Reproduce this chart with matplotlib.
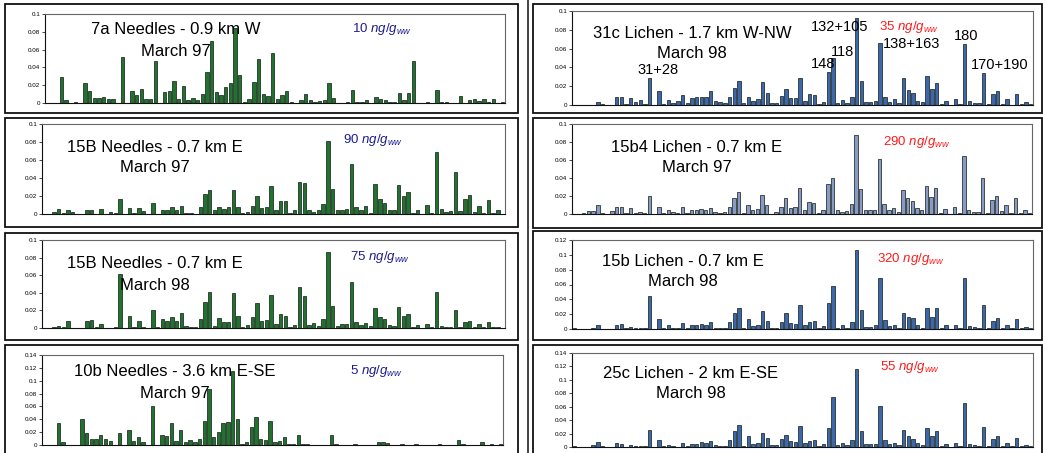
import numpy as np
import matplotlib
matplotlib.use("Agg")
import matplotlib.pyplot as plt
from matplotlib.patches import Rectangle
from matplotlib.lines import Line2D

# relative congener profiles, 98 congener slots per panel
needles_7a_97 = [0, 0, 0, .029, .003, 0, .001, 0, .022, .013,
                 .006, .006, .007, .005, .005, 0, .052, 0, .014, .009,
                 .016, .004, .004, .047, 0, .012, .013, .025, .004, .019,
                 .003, .006, .003, .010, .035, .070, .012, .009, .018, .022,
                 .084, .032, .001, .004, .024, .050, .010, .008, .056, .005,
                 .009, .013, .001, 0, .003, .010, .003, .001, .002, .003,
                 .023, .006, 0, 0, .001, .015, .001, .001, .003, 0,
                 .007, .004, .003, .001, .001, .011, .003, .011, .047, 0,
                 0, .001, 0, .015, .001, .001, 0, 0, .008, 0,
                 .003, .004, .002, .004, .001, .004, 0, .001]

lichen_31c_98 = [0, 0, 0, 0, 0, .003, .001, 0, 0, .009,
                 .008, .001, .007, .003, .005, .001, .029, 0, .015, .001,
                 .005, .002, .004, .011, .002, .007, .009, .008, .008, .015,
                 .004, .003, .002, .008, .018, .026, .002, .009, .004, .006,
                 .024, .013, .002, .002, .010, .017, .007, .007, .029, .004,
                 .012, .011, .001, .003, .035, .050, .002, .005, .002, .009,
                 .093, .026, .003, .003, .004, .066, .009, .003, .006, .002,
                 .029, .016, .013, .004, .003, .031, .017, .023, .001, .004,
                 0, .006, .001, .065, .004, .002, .002, .034, .001, .012,
                 .015, .001, .006, 0, .012, .001, .003, .001]

needles_15B_97 = [0, 0, .002, .006, .001, .005, .002, 0, 0, .005,
                  .004, 0, .006, 0, .002, .001, .017, 0, .007, .001,
                  .007, .003, 0, .012, 0, .005, .005, .008, .004, .009,
                  .001, .001, 0, .008, .022, .027, .005, .008, .006, .008,
                  .027, .008, .001, .002, .009, .020, .007, .008, .031, .005,
                  .014, .014, .001, .005, .036, .034, .004, .002, .004, .011,
                  .081, .028, .004, .005, .006, .056, .008, .005, .009, .001,
                  .033, .017, .012, .005, .004, .032, .020, .025, .001, .005,
                  0, .010, .001, .069, .006, .002, .003, .047, .003, .017,
                  .021, .002, .009, .001, .016, .001, .004, 0]

lichen_15b4_97 = [0, 0, .001, .003, .003, .010, .001, 0, .003, .008,
                  .008, .001, .007, .001, .002, .001, .020, 0, .008, .001,
                  .005, .002, .001, .008, .001, .004, .004, .006, .005, .007,
                  .002, .001, .002, .008, .018, .025, .001, .010, .004, .006,
                  .021, .010, 0, .002, .008, .018, .007, .008, .029, .005,
                  .013, .012, .001, .005, .033, .040, .004, .002, .003, .011,
                  .088, .028, .004, .004, .005, .061, .011, .004, .007, .002,
                  .027, .018, .015, .007, .004, .031, .019, .029, .001, .006,
                  0, .008, .001, .064, .005, .002, .002, .040, .001, .016,
                  .020, .003, .010, .001, .018, .001, .005, .001]

needles_15B_98 = [0, 0, .001, .002, .001, .008, 0, 0, 0, .008,
                  .009, .001, .005, 0, 0, .001, .061, 0, .014, .001,
                  .008, .001, 0, .020, .001, .010, .008, .013, .008, .017,
                  .002, .001, .001, .010, .030, .041, .002, .011, .007, .007,
                  .040, .014, .001, .003, .013, .028, .008, .009, .037, .005,
                  .016, .014, .001, .003, .047, .036, .003, .006, .002, .010,
                  .086, .025, .002, .005, .004, .052, .007, .003, .006, .002,
                  .023, .013, .010, .003, .002, .024, .014, .016, .001, .003,
                  0, .005, .001, .041, .002, .001, .001, .020, .001, .007,
                  .008, .001, .004, .001, .007, .001, .001, 0]

lichen_15b_98 = [.001, 0, 0, 0, .001, .006, 0, 0, 0, .006,
                 .007, .001, .003, .001, .002, .001, .044, 0, .013, .001,
                 .006, .001, .001, .008, .002, .005, .005, .007, .006, .009,
                 .001, .001, .001, .009, .022, .028, .001, .013, .004, .006,
                 .024, .011, .001, .002, .010, .021, .008, .007, .032, .005,
                 .010, .011, .001, .004, .035, .058, .002, .005, .002, .009,
                 .106, .026, .003, .003, .005, .069, .012, .004, .006, .002,
                 .022, .016, .015, .006, .002, .028, .016, .028, .001, .006,
                 0, .006, .001, .069, .004, .003, .001, .033, .001, .011,
                 .015, .002, .006, .001, .013, .001, .003, .001]

needles_10b_97 = [0, 0, 0, .034, .004, 0, 0, 0, .040, .018,
                  .009, .010, .015, .010, .007, 0, .018, 0, .023, .007,
                  .013, .005, 0, .060, 0, .015, .014, .034, .007, .023,
                  .004, .008, .004, .010, .037, .087, .013, .020, .035, .036,
                  .115, .040, .001, .004, .028, .043, .009, .008, .038, .004,
                  .006, .013, .002, .002, .015, .002, .001, 0, 0, 0,
                  0, .015, .001, 0, 0, 0, .002, 0, 0, 0,
                  0, .004, .004, .003, 0, 0, .001, 0, 0, .001,
                  0, 0, 0, 0, .002, 0, 0, 0, .008, .001,
                  0, 0, 0, .004, 0, .001, 0, .001]

lichen_25c_98 = [.001, 0, 0, 0, .003, .007, .001, 0, 0, .006,
                 .005, 0, .003, .001, .001, .001, .025, 0, .010, .001,
                 .003, .001, 0, .006, .001, .005, .005, .007, .006, .009,
                 .003, .002, .001, .011, .024, .033, .001, .017, .004, .006,
                 .021, .013, .003, .003, .012, .018, .009, .008, .032, .006,
                 .009, .010, .001, .005, .028, .074, .003, .006, .003, .010,
                 .116, .024, .004, .004, .004, .061, .010, .004, .006, .003,
                 .025, .017, .012, .006, .003, .029, .017, .024, .001, .005,
                 0, .006, .001, .066, .004, .003, .001, .030, .001, .012,
                 .017, .002, .006, .001, .014, .001, .003, .001]

titles = ["7a Needles - 0.9 km W", "31c Lichen - 1.7 km W-NW",
          "15B Needles - 0.7 km E", "15b4 Lichen - 0.7 km E",
          "15B Needles - 0.7 km E", "15b Lichen - 0.7 km E",
          "10b Needles - 3.6 km E-SE", "25c Lichen - 2 km E-SE"]
dates = ["March 97", "March 98", "March 97", "March 97",
         "March 98", "March 98", "March 97", "March 98"]
totals = ["10", "35", "90", "290", "75", "320", "5", "55"]
y_max = [0.1, 0.1, 0.1, 0.1, 0.1, 0.12, 0.14, 0.14]
congeners = ["31+28", "148", "118", "132+105", "138+163", "180", "170+190"]

plt.rcParams['font.family'] = ['Liberation Sans', 'DejaVu Sans']
plt.rcParams['mathtext.fontset'] = 'custom'
plt.rcParams['mathtext.it'] = 'Liberation Sans:italic'
plt.rcParams['mathtext.rm'] = 'Liberation Sans'

W, H = 1045, 453
fig = plt.figure(figsize=(W / 100, H / 100), dpi=100)


def fx(x):
    return x / W


def fy(y):
    return 1 - y / H


series = [needles_7a_97, lichen_31c_98, needles_15B_97, lichen_15b4_97,
          needles_15B_98, lichen_15b_98, needles_10b_97, lichen_25c_98]
green = '#22722f'
blue = '#3c66ad'
pale = '#8a9ac6'
colors = [green, blue, green, pale, green, blue, green, blue]
conc_colors = ['#1c1c90', '#ff1a1a'] * 4

# pixel layout: plot area (l, t, r, b), frame (l, t, r, b)
plot_px = [(45, 14, 505, 103), (572, 11, 1033, 105),
           (42, 124, 505, 214), (572, 124, 1032, 214),
           (42, 240, 505, 328), (572, 240, 1033, 329),
           (42, 355, 503, 445), (572, 353, 1033, 447)]
frame_px = [(5, 4, 518, 113), (533, 4, 1042, 113),
            (5, 118, 518, 227), (533, 118, 1042, 228),
            (5, 233, 518, 340), (533, 231, 1042, 340),
            (5, 345, 518, 470), (533, 345, 1042, 470)]
title_px = [(176, 30, 51), (692, 33, 53), (155, 147, 168), (697, 148, 168),
            (155, 263, 285), (683, 261, 281), (175, 372, 393), (691, 373, 393)]
conc_px = [(352, 29), (879, 27), (343, 140), (883, 142),
           (350, 257), (877, 259), (350, 371), (880, 367)]
cong_px = [(658, 70), (823, 64), (842, 52), (840, 27),
           (912, 44), (966, 36), (1000, 65)]

x = np.arange(len(needles_7a_97))

# separator line left of the lichen column
fig.lines.append(Line2D([fx(527.5), fx(527.5)], [0, 1], transform=fig.transFigure,
                        color='#222222', linewidth=1.2))

for i, vals in enumerate(series):
    l, t, r, b = frame_px[i]
    fig.patches.append(Rectangle((fx(l), fy(b)), fx(r - l), (b - t) / H,
                                 transform=fig.transFigure, fill=False,
                                 edgecolor='#111111', linewidth=1.3))
    l, t, r, b = plot_px[i]
    ax = fig.add_axes([fx(l), fy(b), fx(r - l), (b - t) / H])
    ax.bar(x, vals, width=0.72, color=colors[i], edgecolor='#0c1a10',
           linewidth=0.5)
    ax.set_xlim(-0.5, len(x) - 0.5)
    ax.set_ylim(0, y_max[i])
    ticks = np.arange(0, y_max[i] + 1e-9, 0.02)
    ax.set_yticks(ticks)
    ax.set_yticklabels([f"{v:g}" for v in ticks])
    ax.set_xticks([])
    ax.tick_params(axis='y', labelsize=4.5, length=2, width=0.5, pad=1.5,
                   direction='out')
    for side in ['top', 'right']:
        ax.spines[side].set_color('#666666')
        ax.spines[side].set_linewidth(0.8)
    for side in ['left', 'bottom']:
        ax.spines[side].set_color('#111111')
        ax.spines[side].set_linewidth(0.8)

    cx, ty, my = title_px[i]
    fig.text(fx(cx), fy(ty), titles[i], ha='center', va='center', fontsize=12)
    fig.text(fx(cx), fy(my), dates[i], ha='center', va='center', fontsize=12)
    px, py = conc_px[i]
    fig.text(fx(px), fy(py), r"$\mathit{" + totals[i] + r"\ ng/g}_{\mathit{ww}}$",
             ha='left', va='center', fontsize=9.5, color=conc_colors[i])

for name, (px, py) in zip(congeners, cong_px):
    fig.text(fx(px), fy(py), name, ha='center', va='center', fontsize=10.5)

fig.savefig("out.png", dpi=100)
